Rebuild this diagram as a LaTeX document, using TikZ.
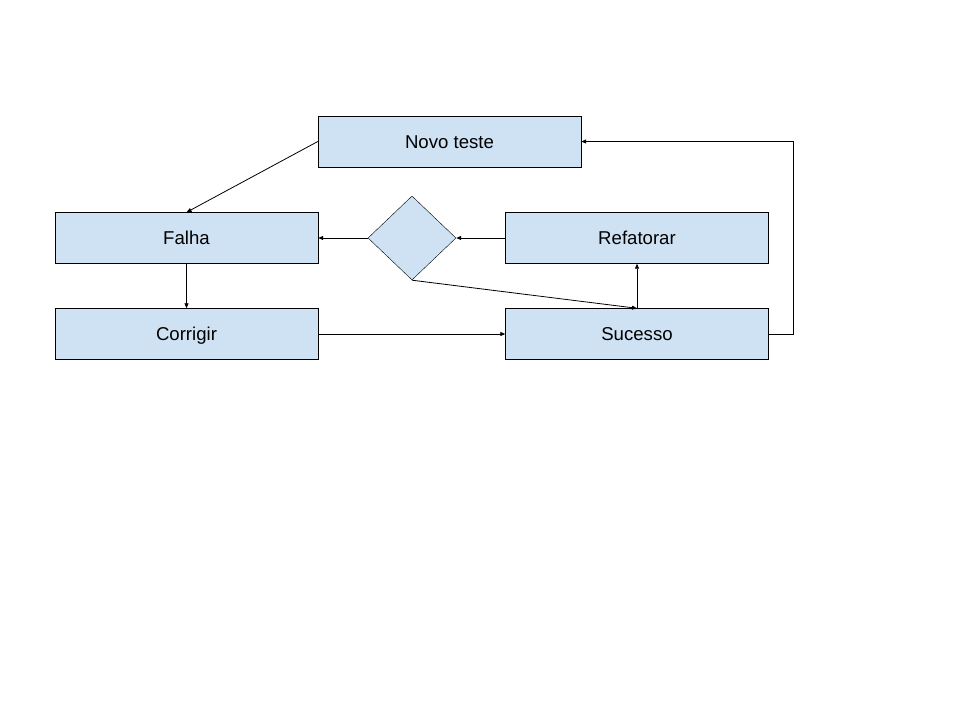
\documentclass[tikz,border=0pt]{standalone}
\usepackage{fontspec}
\setmainfont{Liberation Sans}
\usetikzlibrary{shapes.geometric,arrows.meta}
\definecolor{caixa}{HTML}{CFE2F3}
\begin{document}
\begin{tikzpicture}[x=1pt,y=-1pt,>={Triangle[length=5pt,width=4pt]},
  etapa/.style={draw,fill=caixa,minimum width=263pt,minimum height=51pt,inner sep=0pt,
    text height=13.3pt,text depth=0pt,font=\fontsize{18.6}{22}\selectfont},
  decisao/.style={draw,fill=caixa,diamond,minimum width=88pt,minimum height=84pt,inner sep=0pt},
  seta/.style={->,line width=0.8pt}]
  \useasboundingbox (0,0) rectangle (960,720);

  % caixas do ciclo
  \node[etapa] (novo)   at (449.5,141.5) {Novo teste};
  \node[etapa] (falha)  at (186.5,238)   {Falha};
  \node[etapa] (corr)   at (186.5,334)   {Corrigir};
  \node[etapa] (suc)    at (637,334)     {Sucesso};
  \node[etapa] (refat)  at (637,238)     {Refatorar};
  \node[decisao] (dec)  at (412,238)     {};

  % conexões
  \draw[seta] (novo.west) -- (falha.north);
  \draw[seta] (falha.south) -- (corr.north);
  \draw[seta] (corr.east) -- (suc.west);
  \draw[seta] (suc.north) -- (refat.south);
  \draw[seta] (refat.west) -- (dec.east);
  \draw[seta] (dec.west) -- (falha.east);
  \draw[seta] (dec.south) -- (suc.north);
  \draw[seta] (suc.east) -- ++(25,0) |- (novo.east);
\end{tikzpicture}
\end{document}
